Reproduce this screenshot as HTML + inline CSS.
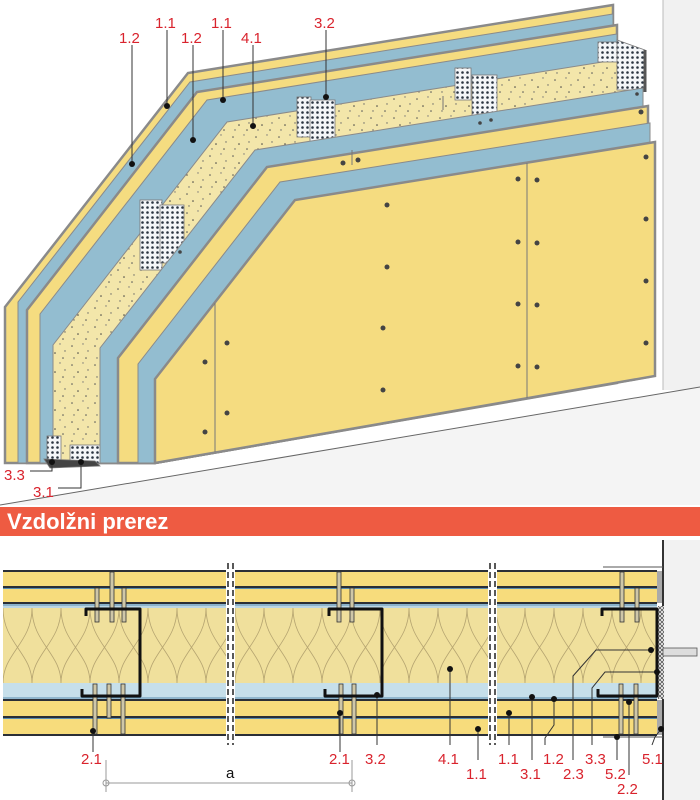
<!DOCTYPE html>
<html><head><meta charset="utf-8"><style>
html,body{margin:0;padding:0;background:#fff;}
svg{display:block;}
text{font-family:"Liberation Sans",sans-serif;}
.lb{fill:#d9232d;font-size:15px;}
</style></head><body>
<svg width="700" height="800" viewBox="0 0 700 800" xmlns="http://www.w3.org/2000/svg">
<defs>
<pattern id="spk" width="23" height="19" patternUnits="userSpaceOnUse">
<rect width="23" height="19" fill="#f3e6aa"/>
<circle cx="3" cy="4" r="0.8" fill="#555"/><circle cx="14" cy="2" r="0.7" fill="#777"/>
<circle cx="9" cy="11" r="0.8" fill="#444"/><circle cx="19" cy="9" r="0.7" fill="#666"/>
<circle cx="5" cy="16" r="0.7" fill="#666"/><circle cx="17" cy="16" r="0.8" fill="#555"/>
</pattern>
<pattern id="dots" width="5" height="5" patternUnits="userSpaceOnUse">
<rect width="5" height="5" fill="#f4f6f8"/><circle cx="2.5" cy="2.5" r="1.3" fill="#2a3440"/>
</pattern>
<pattern id="wool" x="3" y="608" width="29" height="75" patternUnits="userSpaceOnUse">
<rect width="29" height="75" fill="#f0e09c"/>
<path d="M0,75 C0,45 29,35 29,0 M29,75 C29,45 0,35 0,0" fill="none" stroke="#b5a470" stroke-width="0.8"/>
</pattern>
<pattern id="hatch" width="4" height="4" patternUnits="userSpaceOnUse">
<rect width="4" height="4" fill="#eee"/><path d="M0,4 L4,0 M0,0 L4,4" stroke="#444" stroke-width="0.7"/>
</pattern>
</defs>

<!-- wall & floor -->
<rect x="663" y="0" width="37" height="390" fill="#f1f1f1"/>
<line x1="663" y1="0" x2="663" y2="390" stroke="#bbb"/>
<polygon points="0,505 700,387 700,505 0,505" fill="#f4f4f4"/>
<line x1="0" y1="505" x2="700" y2="387" stroke="#666" stroke-width="1"/>

<!-- 3D layers back to front -->
<g stroke="#8a8a8a" stroke-width="1">
<polygon points="5,463 5,307 188,73 613,5 613,383 155,463" fill="#f5dc80" stroke-width="2.5"/>
<polygon points="18,463 18,302 190,82 613,14 613,383 155,463" fill="#93bdd0"/>
<polygon points="27,463 27,310 197,92 617,25 617,383 155,463" fill="#f5dc80" stroke-width="2.5"/>
<polygon points="40,463 40,314 207,100 617,34 617,383 155,463" fill="#93bdd0"/>
<polygon points="53,463 53,345 227,122 640,56 640,379 155,463" fill="url(#spk)"/>
</g>
<!-- metal profiles -->
<g stroke="#777" stroke-width="0.8">
<rect x="140" y="200" width="22" height="70" fill="url(#dots)"/>
<rect x="160" y="205" width="24" height="58" fill="url(#dots)"/>
<rect x="297" y="97" width="14" height="40" fill="url(#dots)"/>
<rect x="310" y="100" width="25" height="42" fill="url(#dots)"/>
<rect x="455" y="68" width="16" height="32" fill="url(#dots)"/>
<rect x="472" y="75" width="25" height="40" fill="url(#dots)"/>
<rect x="598" y="42" width="20" height="20" fill="url(#dots)"/>
<polygon points="617,40 645,50 645,90 617,90" fill="url(#dots)"/>
<line x1="645" y1="50" x2="645" y2="92" stroke="#555" stroke-width="3"/>
<rect x="47" y="436" width="14" height="26" fill="url(#dots)"/>
<rect x="70" y="445" width="30" height="18" fill="url(#dots)"/>
<polygon points="44,459 95,461 100,466 50,468" fill="#444"/>
</g>
<g stroke="#8a8a8a" stroke-width="1">
<polygon points="100,463 100,348 255,150 643,88 643,378 155,463" fill="#93bdd0"/>
<polygon points="118,463 118,358 267,167 648,106 648,377 155,463" fill="#f5dc80" stroke-width="2.5"/>
<polygon points="138,463 138,364 280,182 650,123 650,377 155,463" fill="#93bdd0"/>
<polygon points="155,463 155,379 295,200 655,142 655,376" fill="#f5dc80" stroke-width="2.5"/>
</g>
<line x1="527" y1="163" x2="527" y2="398" stroke="#777"/>
<line x1="215" y1="303" x2="215" y2="452" stroke="#777"/>
<line x1="352" y1="150" x2="352" y2="165" stroke="#777"/>
<line x1="443" y1="96" x2="443" y2="110" stroke="#777"/>
<g fill="#444">
<circle cx="205" cy="362" r="2.5"/><circle cx="227" cy="343" r="2.5"/><circle cx="205" cy="432" r="2.5"/><circle cx="227" cy="413" r="2.5"/>
<circle cx="387" cy="205" r="2.5"/><circle cx="387" cy="267" r="2.5"/><circle cx="383" cy="328" r="2.5"/><circle cx="383" cy="390" r="2.5"/>
<circle cx="518" cy="179" r="2.5"/><circle cx="537" cy="180" r="2.5"/><circle cx="518" cy="242" r="2.5"/><circle cx="537" cy="243" r="2.5"/>
<circle cx="518" cy="304" r="2.5"/><circle cx="537" cy="305" r="2.5"/><circle cx="518" cy="366" r="2.5"/><circle cx="537" cy="367" r="2.5"/>
<circle cx="646" cy="157" r="2.5"/><circle cx="646" cy="219" r="2.5"/><circle cx="646" cy="281" r="2.5"/><circle cx="646" cy="343" r="2.5"/>
<circle cx="641" cy="112" r="2.5"/><circle cx="358" cy="160" r="2.5"/><circle cx="343" cy="163" r="2.5"/>
<circle cx="180" cy="252" r="1.8"/><circle cx="480" cy="123" r="1.8"/><circle cx="491" cy="120" r="1.8"/><circle cx="637" cy="94" r="1.8"/>
</g>
<!-- top labels -->
<g stroke="#333" stroke-width="1">
<line x1="132" y1="45" x2="132" y2="164"/><line x1="167" y1="30" x2="167" y2="106"/>
<line x1="193" y1="45" x2="193" y2="140"/><line x1="223" y1="30" x2="223" y2="100"/>
<line x1="253" y1="45" x2="253" y2="126"/><line x1="326" y1="30" x2="326" y2="97"/>
<polyline points="52,462 52,471 30,471" fill="none"/><polyline points="81,462 81,488 58,488" fill="none"/>
</g>
<g fill="#111">
<circle cx="132" cy="164" r="3"/><circle cx="167" cy="106" r="3"/><circle cx="193" cy="140" r="3"/>
<circle cx="223" cy="100" r="3"/><circle cx="253" cy="126" r="3"/><circle cx="326" cy="97" r="3"/>
<circle cx="52" cy="462" r="3"/><circle cx="81" cy="462" r="3"/>
</g>
<g class="lb">
<text x="119" y="43">1.2</text><text x="155" y="28">1.1</text><text x="181" y="43">1.2</text>
<text x="211" y="28">1.1</text><text x="241" y="43">4.1</text><text x="314" y="28">3.2</text>
<text x="4" y="480">3.3</text><text x="33" y="497">3.1</text>
</g>

<!-- header bar -->
<rect x="0" y="507" width="700" height="29" fill="#ee5b42"/>
<text x="7" y="529" fill="#fff" font-size="22" font-weight="bold">Vzdolžni prerez</text>

<!-- section -->
<rect x="663" y="540" width="37" height="260" fill="#f2f2f2"/>
<line x1="663" y1="540" x2="663" y2="800" stroke="#333" stroke-width="2"/>
<line x1="603" y1="567" x2="663" y2="567" stroke="#555"/>
<line x1="603" y1="737" x2="663" y2="737" stroke="#555"/>
<rect x="3" y="571" width="654" height="32" fill="#f7dc7c"/>
<rect x="3" y="603" width="654" height="5" fill="#bcd6e4"/>
<rect x="3" y="608" width="654" height="75" fill="url(#wool)"/>
<rect x="3" y="683" width="654" height="17" fill="#c6dfea"/>
<rect x="3" y="700" width="654" height="35" fill="#f7dc7c"/>
<g stroke="#2b2f36" stroke-width="2">
<line x1="3" y1="571" x2="657" y2="571"/><line x1="3" y1="587" x2="657" y2="587"/>
<line x1="3" y1="603" x2="657" y2="603"/><line x1="3" y1="700" x2="657" y2="700"/>
<line x1="3" y1="717" x2="657" y2="717"/><line x1="3" y1="735" x2="657" y2="735"/>
</g>
<g stroke="#5a8db0" stroke-width="1"><line x1="3" y1="588.5" x2="657" y2="588.5"/><line x1="3" y1="605" x2="657" y2="605"/><line x1="3" y1="698" x2="657" y2="698"/><line x1="3" y1="718.5" x2="657" y2="718.5"/></g>
<rect x="657" y="571" width="5" height="32" fill="#aaa"/>
<rect x="657" y="700" width="5" height="35" fill="#aaa"/>
<rect x="658" y="606" width="6" height="93" fill="url(#hatch)"/>
<!-- breaks -->
<rect x="226" y="563" width="9" height="182" fill="#fff"/>
<rect x="488" y="563" width="9" height="182" fill="#fff"/>
<g stroke="#222" stroke-width="1.5" stroke-dasharray="6,3">
<line x1="228" y1="563" x2="228" y2="745"/><line x1="233" y1="563" x2="233" y2="745"/>
<line x1="490" y1="563" x2="490" y2="745"/><line x1="495" y1="563" x2="495" y2="745"/>
</g>
<!-- screws -->
<g fill="#cfc7a8" stroke="#333" stroke-width="0.8">
<rect x="110" y="572" width="4" height="50"/><rect x="95" y="588" width="4" height="34"/><rect x="122" y="588" width="4" height="34"/>
<rect x="93" y="684" width="4" height="50"/><rect x="107" y="684" width="4" height="34"/><rect x="121" y="684" width="4" height="50"/>
<rect x="337" y="572" width="4" height="50"/><rect x="350" y="588" width="4" height="34"/>
<rect x="339" y="684" width="4" height="50"/><rect x="352" y="684" width="4" height="50"/>
<rect x="620" y="572" width="4" height="50"/><rect x="635" y="588" width="4" height="34"/>
<rect x="619" y="684" width="4" height="50"/><rect x="634" y="684" width="4" height="50"/>
</g>
<!-- C profiles -->
<g fill="none" stroke="#111" stroke-width="3" stroke-linejoin="round">
<path d="M86,616 L86,609 L140,609 L140,696 L82,696 L82,689"/>
<path d="M329,616 L329,609 L382,609 L382,696 L325,696 L325,689"/>
<path d="M602,616 L602,609 L657,609 L657,696 L598,696 L598,689"/>
</g>
<rect x="663" y="648" width="34" height="8" fill="#ddd" stroke="#555" stroke-width="0.8"/>
<!-- dimension -->
<line x1="106" y1="760" x2="106" y2="792" stroke="#999"/>
<line x1="106" y1="783" x2="352" y2="783" stroke="#999"/>
<line x1="352" y1="760" x2="352" y2="792" stroke="#999"/>
<circle cx="106" cy="783" r="3" fill="none" stroke="#999"/><circle cx="352" cy="783" r="3" fill="none" stroke="#999"/>
<text x="226" y="778" font-size="15" fill="#111">a</text>
<!-- section leaders -->
<g stroke="#333" stroke-width="1" fill="none">
<line x1="93" y1="731" x2="93" y2="752"/><line x1="340" y1="713" x2="340" y2="752"/>
<line x1="377" y1="695" x2="377" y2="745"/><line x1="450" y1="669" x2="450" y2="745"/>
<line x1="478" y1="729" x2="478" y2="760"/><line x1="509" y1="713" x2="509" y2="745"/>
<line x1="532" y1="697" x2="532" y2="760"/><polyline points="554,699 554,725 545,738 545,745"/>
<polyline points="573,760 573,676 596,650 651,650"/><polyline points="592,745 592,688 605,672 657,672"/>
<line x1="617" y1="737" x2="617" y2="760"/><line x1="629" y1="702" x2="629" y2="775"/>
<polyline points="661,729 655,737 652,745"/>
</g>
<g fill="#111">
<circle cx="93" cy="731" r="3"/><circle cx="340" cy="713" r="3"/><circle cx="377" cy="695" r="3"/>
<circle cx="450" cy="669" r="3"/><circle cx="478" cy="729" r="3"/><circle cx="509" cy="713" r="3"/>
<circle cx="532" cy="697" r="3"/><circle cx="554" cy="699" r="3"/><circle cx="651" cy="650" r="3"/>
<circle cx="657" cy="672" r="3"/><circle cx="617" cy="737" r="3"/><circle cx="629" cy="702" r="3"/>
<circle cx="661" cy="729" r="3"/>
</g>
<g class="lb">
<text x="81" y="764">2.1</text><text x="329" y="764">2.1</text><text x="365" y="764">3.2</text>
<text x="438" y="764">4.1</text><text x="466" y="779">1.1</text><text x="498" y="764">1.1</text>
<text x="520" y="779">3.1</text><text x="543" y="764">1.2</text><text x="563" y="779">2.3</text>
<text x="585" y="764">3.3</text><text x="605" y="779">5.2</text><text x="617" y="794">2.2</text>
<text x="642" y="764">5.1</text>
</g>
</svg>
</body></html>
